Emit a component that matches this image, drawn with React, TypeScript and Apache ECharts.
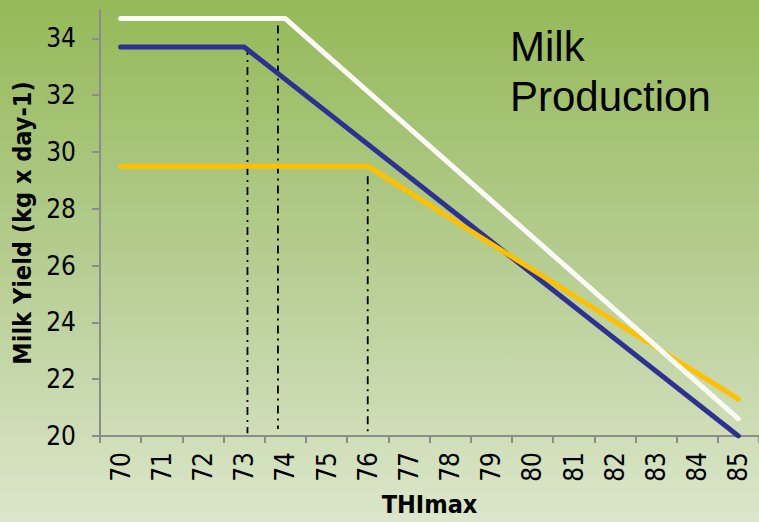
import React, { useEffect, useRef } from "react";
import * as echarts from "echarts";

const categories = ["70","71","72","73","74","75","76","77","78","79","80","81","82","83","84","85"];
const yTicks = [20, 22, 24, 26, 28, 30, 32, 34];
const whiteLine = [[70, 34.7], [74, 34.7], [85, 20.6]];
const blueLine = [[70, 33.7], [73, 33.7], [85, 20]];
const orangeLine = [[70, 29.5], [76, 29.5], [85, 21.3]];
const guide1 = [[73.08, 33.7], [73.08, 20.1]];
const guide2 = [[73.82, 34.45], [73.82, 20.25]];
const guide3 = [[76.0, 29.15], [76.0, 20.1]];

const tickFont = "'DejaVu Sans Condensed', 'DejaVu Sans', sans-serif";

export default function App() {
  const ref = useRef<HTMLDivElement>(null);
  useEffect(() => {
    if (!ref.current) return;
    const chart = echarts.init(ref.current, null, { renderer: "svg" });
    const dash = {
      type: "line",
      xAxisIndex: 1,
      symbol: "none",
      silent: true,
      z: 1,
      lineStyle: { color: "#000", width: 1.8, type: [8, 5, 2, 5] },
    };
    const main = (data: number[][], color: string, z: number) => ({
      type: "line",
      xAxisIndex: 1,
      data,
      symbol: "none",
      z,
      lineStyle: { color, width: 5, cap: "round", join: "round" },
    });
    chart.setOption({
      animation: false,
      backgroundColor: {
        type: "linear",
        x: 0, y: 0, x2: 0, y2: 1,
        colorStops: [
          { offset: 0, color: "#95b958" },
          { offset: 0.5, color: "#b5cd91" },
          { offset: 1, color: "#dce6cb" },
        ],
      },
      grid: { left: 100, top: 10, right: -2, bottom: 86 },
      graphic: [
        {
          type: "text",
          left: 510,
          top: 21,
          style: {
            text: "Milk\nProduction",
            fontFamily: "'Liberation Sans', Arial, sans-serif",
            fontSize: 42,
            lineHeight: 50,
            fill: "#000",
          },
        },
      ],
      xAxis: [
        {
          type: "category",
          data: categories,
          boundaryGap: true,
          name: "THImax",
          nameLocation: "middle",
          nameGap: 56,
          nameTextStyle: { fontFamily: tickFont, fontWeight: "bold", fontSize: 25, color: "#000" },
          axisLine: { lineStyle: { color: "#8c8c8c", width: 2 } },
          axisTick: { show: true, length: 7, alignWithLabel: false, lineStyle: { color: "#8c8c8c", width: 2 } },
          axisLabel: { rotate: 90, fontFamily: tickFont, fontSize: 26, color: "#000", margin: 16, interval: 0 },
          splitLine: { show: false },
        },
        {
          type: "value",
          min: 69.5,
          max: 85.5,
          show: false,
        },
      ],
      yAxis: {
        type: "value",
        min: 20,
        max: 35,
        interval: 1,
        name: "Milk Yield (kg x day-1)",
        nameLocation: "middle",
        nameGap: 63,
        nameTextStyle: { fontFamily: tickFont, fontWeight: "bold", fontSize: 25, color: "#000" },
        axisLine: { show: true, lineStyle: { color: "#8c8c8c", width: 2 } },
        axisTick: { show: true, length: 8, customValues: yTicks, lineStyle: { color: "#8c8c8c", width: 2 } },
        axisLabel: { customValues: yTicks, fontFamily: tickFont, fontSize: 26, color: "#000", margin: 24 },
        splitLine: { show: false },
      },
      series: [
        { ...dash, data: guide1 },
        { ...dash, data: guide2 },
        { ...dash, data: guide3 },
        main(blueLine, "#2e3192", 3),
        main(orangeLine, "#ffc000", 4),
        main(whiteLine, "#fafaf6", 5),
      ],
    });
    return () => chart.dispose();
  }, []);
  return (
    <div style={{ position: "fixed", left: 0, top: 0, width: 759, height: 522 }}>
      <div ref={ref} style={{ width: 759, height: 522 }} />
    </div>
  );
}
